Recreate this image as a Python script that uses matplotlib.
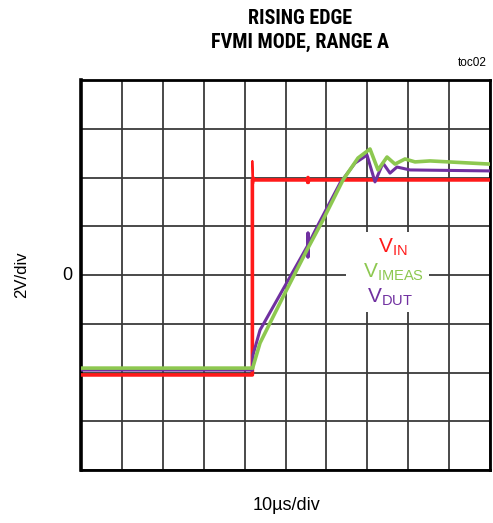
import matplotlib
matplotlib.use('Agg')
import matplotlib.pyplot as plt
from matplotlib.patches import Rectangle
from matplotlib import font_manager

# time in us (10us/div), voltage in V (2V/div)
vin_t = [0, 41.9, 41.9, 55.4, 55.45, 55.5, 55.55, 55.6, 100]
vin_v = [-4.1, -4.1, 3.9, 3.9, 3.8, 4.0, 3.8, 3.9, 3.9]
# overshoot spike of the input edge
spike_t = [41.9, 41.9, 42.1, 42.3, 42.5]
spike_v = [3.9, 4.68, 3.75, 4.0, 3.9]

vmeas_t = [0, 42.0, 42.05, 43.77, 49.39, 55.26, 59.17, 64.06, 67.73, 70.66,
           72.62, 74.82, 76.77, 79.22, 81.66, 85.33, 100]
vmeas_v = [-3.82, -3.82, -3.77, -2.79, -0.90, 1.03, 2.26, 3.90, 4.80, 5.17,
           4.31, 4.84, 4.55, 4.76, 4.64, 4.68, 4.55]

vdut_t = [0, 41.9, 42.05, 43.77, 51.10, 55.5, 55.5, 55.5, 55.5, 57.70, 63.33,
          66.99, 69.93, 71.88, 73.84, 75.55, 77.26, 80.44, 100]
vdut_v = [-3.9, -3.9, -3.28, -2.26, -0.08, 1.23, 1.72, 0.74, 1.23, 1.97, 3.77,
          4.59, 4.92, 3.82, 4.59, 4.18, 4.43, 4.31, 4.27]

RED = '#ff1a1a'
GREEN = '#8dc850'
PURPLE = '#7030a0'

names = set(f.name for f in font_manager.fontManager.ttflist)
title_font = 'Liberation Sans'
for cand in ['Liberation Sans Narrow', 'Roboto Condensed', 'DejaVu Sans Condensed',
             'Open Sans Condensed', 'Noto Sans Condensed']:
    if cand in names:
        title_font = cand
        break
plt.rcParams['font.family'] = ['Liberation Sans', 'DejaVu Sans']
plt.rcParams['mathtext.fontset'] = 'custom'
plt.rcParams['mathtext.rm'] = 'Liberation Sans'

fig = plt.figure(figsize=(4.93, 5.23), dpi=100)
ax = fig.add_axes([81 / 493, 1 - 470 / 523, 409 / 493, 390 / 523])

ax.set_xlim(0, 100)
ax.set_ylim(-8, 8)
ax.set_xticks(range(0, 101, 10))
ax.set_yticks(range(-8, 9, 2))
ax.grid(True, color='#3a3a3a', linewidth=1.3)
ax.tick_params(length=0, labelleft=False, labelbottom=False)
for s in ax.spines.values():
    s.set_linewidth(2)
    s.set_color('black')
ax.spines['left'].set_linewidth(2.6)

# white area behind the labels
ax.add_patch(Rectangle((64.8, -1.52), 20.3, 3.28, facecolor='white',
                       edgecolor='none', zorder=2))

ax.plot(vin_t, vin_v, color=RED, linewidth=2.6, zorder=3)
ax.plot(spike_t, spike_v, color=RED, linewidth=1.4, zorder=3)
ax.plot(vdut_t, vdut_v, color=PURPLE, linewidth=2.2, zorder=4)
ax.plot(vmeas_t, vmeas_v, color=GREEN, linewidth=2.6, zorder=5)

ax.text(76.3, 1.15, r'V$_\mathregular{IN}$', color=RED, fontsize=15,
        ha='center', va='center', zorder=6)
ax.text(76.3, 0.1, r'V$_\mathregular{IMEAS}$', color=GREEN, fontsize=15,
        ha='center', va='center', zorder=6)
ax.text(75.6, -0.9, r'V$_\mathregular{DUT}$', color=PURPLE, fontsize=15,
        ha='center', va='center', zorder=6)

fig.text(300 / 493, 1 - 18 / 523, 'RISING EDGE', family=title_font,
         fontweight='bold', fontsize=14.5, ha='center', va='center')
fig.text(300 / 493, 1 - 42 / 523, 'FVMI MODE, RANGE A', family=title_font,
         fontweight='bold', fontsize=14.5, ha='center', va='center')
fig.text(487 / 493, 1 - 63 / 523, 'toc02', fontsize=8.5, ha='right', va='center')

fig.text(67 / 493, 1 - 275 / 523, '0', fontsize=13, ha='center', va='center')
fig.text(22 / 493, 1 - 275 / 523, '2V/div', fontsize=12, rotation=90,
         ha='center', va='center')
fig.text(287 / 493, 1 - 505 / 523, '10µs/div', fontsize=13, ha='center',
         va='center')

fig.savefig('out.png', dpi=100)
